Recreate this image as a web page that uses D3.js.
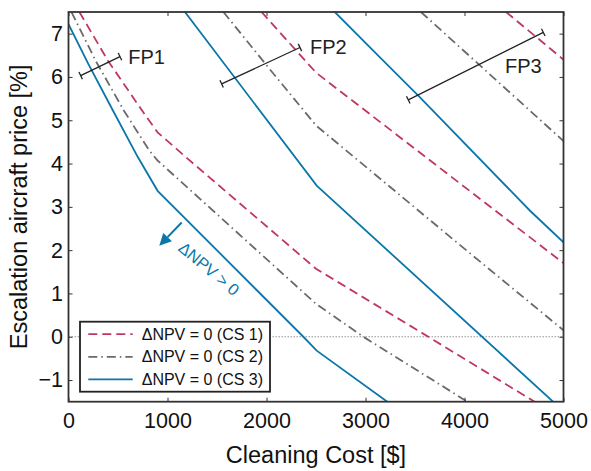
<!DOCTYPE html>
<html>
<head>
<meta charset="utf-8">
<script src="https://cdn.jsdelivr.net/npm/d3@7"></script>
<style>
  body { margin: 0; background: #fff; }
  text { font-family: "Liberation Sans", Arial, Helvetica, sans-serif; }
</style>
</head>
<body>
<svg id="chart" width="591" height="471"></svg>
<script>
// ticks
const xTicks = [0, 1000, 2000, 3000, 4000, 5000];
const yTicks = [-1, 0, 1, 2, 3, 4, 5, 6, 7];

// [cleaning cost $, escalation %]
// CS 1 (red dashed)
const cs1Fp1 = [[110, 7.5], [400, 6.37], [750, 5.2], [900, 4.72], [1200, 4.12], [2500, 1.57], [3634, 0], [4800, -1.63]];
const cs1Fp2 = [[1950, 7.5], [2500, 6.1], [5000, 1.7]];
const cs1Fp3 = [[4420, 7.5], [5000, 6.4]];
// CS 2 (grey dash-dot)
const cs2Fp1 = [[30, 7.5], [275, 6.37], [560, 5.22], [816, 4.3], [900, 4.07], [1833, 2.14], [2500, 0.76], [2978, 0], [4050, -1.53]];
const cs2Fp2 = [[1565, 7.5], [2018, 6.22], [2500, 4.88], [4022, 1.99], [5000, 0.15]];
const cs2Fp3 = [[3560, 7.5], [5000, 4.52]];
// CS 3 (blue solid)
const cs3Fp1 = [[0, 7.22], [200, 6.3], [450, 5.22], [700, 4.15], [900, 3.37], [2372, 0], [2507, -0.32], [3250, -1.55]];
const cs3Fp2 = [[1170, 7.52], [2507, 3.49], [4900, -1.51]];
const cs3Fp3 = [[2690, 7.5], [3146, 6.45], [3533, 5.57], [4662, 2.91], [5000, 2.18]];

// fuel price brackets: [x1, y1, x2, y2], label anchor [x, y]
const fpNames = ["FP1", "FP2", "FP3"];
const fpBars = [[123, 6.03, 520, 6.47], [1547, 5.84, 2338, 6.68], [3432, 5.47, 4796, 7.03]];
const fpLabelPos = [[604, 6.3], [2439, 6.53], [4409, 6.1]];

const legendLabels = ["ΔNPV = 0 (CS 1)", "ΔNPV = 0 (CS 2)", "ΔNPV = 0 (CS 3)"];

const red = "#c1385e", grey = "#6a6a6a", blue = "#0b77a9";
const styles = [
  { color: red, dash: "9,5" },
  { color: grey, dash: "9,4,1.5,4" },
  { color: blue, dash: null }
];
const series = [
  { cs: 0, pts: cs1Fp1 }, { cs: 0, pts: cs1Fp2 }, { cs: 0, pts: cs1Fp3 },
  { cs: 1, pts: cs2Fp1 }, { cs: 1, pts: cs2Fp2 }, { cs: 1, pts: cs2Fp3 },
  { cs: 2, pts: cs3Fp1 }, { cs: 2, pts: cs3Fp2 }, { cs: 2, pts: cs3Fp3 }
];

const svg = d3.select("#chart");
const margin = { top: 12, right: 27.5, bottom: 69.3, left: 68.5 };
const width = 591 - margin.left - margin.right;
const height = 471 - margin.top - margin.bottom;
const g = svg.append("g").attr("transform", `translate(${margin.left},${margin.top})`);

const x = d3.scaleLinear().domain([0, 5000]).range([0, width]);
const y = d3.scaleLinear().domain([-1.5, 7.5]).range([height, 0]);

g.append("clipPath").attr("id", "clip")
  .append("rect").attr("width", width).attr("height", height);

// zero line
g.append("line")
  .attr("x1", 0).attr("x2", width)
  .attr("y1", y(0)).attr("y2", y(0))
  .attr("stroke", "#777").attr("stroke-width", 0.8)
  .attr("stroke-dasharray", "1.5,1.5");

const line = d3.line().x(d => x(d[0])).y(d => y(d[1]));
const plot = g.append("g").attr("clip-path", "url(#clip)");
series.forEach(s => {
  plot.append("path")
    .datum(s.pts)
    .attr("fill", "none")
    .attr("stroke", styles[s.cs].color)
    .attr("stroke-width", 1.8)
    .attr("stroke-dasharray", styles[s.cs].dash)
    .attr("d", line);
});

// fuel price brackets
fpBars.forEach((b, i) => {
  const x1 = x(b[0]), y1 = y(b[1]), x2 = x(b[2]), y2 = y(b[3]);
  const len = Math.hypot(x2 - x1, y2 - y1);
  const nx = -(y2 - y1) / len * 4, ny = (x2 - x1) / len * 4;
  const fb = g.append("g").attr("stroke", "#222").attr("stroke-width", 1.3);
  fb.append("line").attr("x1", x1).attr("y1", y1).attr("x2", x2).attr("y2", y2);
  fb.append("line").attr("x1", x1 - nx).attr("y1", y1 - ny).attr("x2", x1 + nx).attr("y2", y1 + ny);
  fb.append("line").attr("x1", x2 - nx).attr("y1", y2 - ny).attr("x2", x2 + nx).attr("y2", y2 + ny);
  g.append("text")
    .attr("x", x(fpLabelPos[i][0])).attr("y", y(fpLabelPos[i][1]))
    .attr("font-size", 20).attr("fill", "#222")
    .text(fpNames[i]);
});

// ΔNPV > 0 arrow + label
const arrowTail = [1143, 2.64], arrowTip = [917, 2.10];
const ax1 = x(arrowTail[0]), ay1 = y(arrowTail[1]), ax2 = x(arrowTip[0]), ay2 = y(arrowTip[1]);
const ang = Math.atan2(ay2 - ay1, ax2 - ax1);
const hl = 12, hw = 6;
const bx = ax2 - hl * Math.cos(ang), by = ay2 - hl * Math.sin(ang);
g.append("line")
  .attr("x1", ax1).attr("y1", ay1).attr("x2", bx).attr("y2", by)
  .attr("stroke", blue).attr("stroke-width", 2);
g.append("path")
  .attr("d", `M${ax2},${ay2}L${bx - hw * Math.sin(ang)},${by + hw * Math.cos(ang)}L${bx + hw * Math.sin(ang)},${by - hw * Math.cos(ang)}Z`)
  .attr("fill", blue);
g.append("text")
  .attr("transform", `translate(${x(1419)},${y(1.57)}) rotate(40)`)
  .attr("text-anchor", "middle").attr("dy", "0.35em")
  .attr("font-size", 16.5).attr("fill", blue)
  .text("ΔNPV > 0");

// axes
g.append("g").attr("transform", `translate(0,${height})`)
  .call(d3.axisBottom(x).tickValues(xTicks).tickSize(-4).tickPadding(11).tickFormat(d3.format("d")));
g.append("g")
  .call(d3.axisLeft(y).tickValues(yTicks).tickSize(-4).tickPadding(5.5));
g.append("g").call(d3.axisTop(x).tickValues(xTicks).tickSize(-4).tickFormat(""));
g.append("g").attr("transform", `translate(${width},0)`)
  .call(d3.axisRight(y).tickValues(yTicks).tickSize(-4).tickFormat(""));
g.selectAll(".domain").remove();
g.selectAll(".tick line").attr("stroke", "#333");
g.selectAll(".tick text").attr("font-size", 21.5).attr("fill", "#111")
  .style("font-family", "'Liberation Sans', Arial, sans-serif");

// frame
g.append("rect").attr("width", width).attr("height", height)
  .attr("fill", "none").attr("stroke", "#333").attr("stroke-width", 1.8);

// legend
const leg = g.append("g").attr("transform", `translate(${80 - margin.left},${321.7 - margin.top})`);
leg.append("rect").attr("width", 190).attr("height", 70)
  .attr("fill", "#fff").attr("stroke", "#222").attr("stroke-width", 1.8);
legendLabels.forEach((lab, i) => {
  const ly = 12.5 + i * 22.6;
  leg.append("line").attr("x1", 8.3).attr("x2", 52.7).attr("y1", ly).attr("y2", ly)
    .attr("stroke", styles[i].color).attr("stroke-width", 1.8)
    .attr("stroke-dasharray", styles[i].dash);
  leg.append("text").attr("x", 61.7).attr("y", ly).attr("dy", "0.35em")
    .attr("font-size", 16).attr("fill", "#111").text(lab);
});

// axis titles
svg.append("text")
  .attr("x", margin.left + width / 2).attr("y", 463)
  .attr("text-anchor", "middle").attr("font-size", 23.5).attr("fill", "#111")
  .text("Cleaning Cost [$]");
svg.append("text")
  .attr("transform", `translate(27,${margin.top + height / 2}) rotate(-90)`)
  .attr("text-anchor", "middle").attr("font-size", 23.5).attr("fill", "#111")
  .text("Escalation aircraft price [%]");
</script>
</body>
</html>
